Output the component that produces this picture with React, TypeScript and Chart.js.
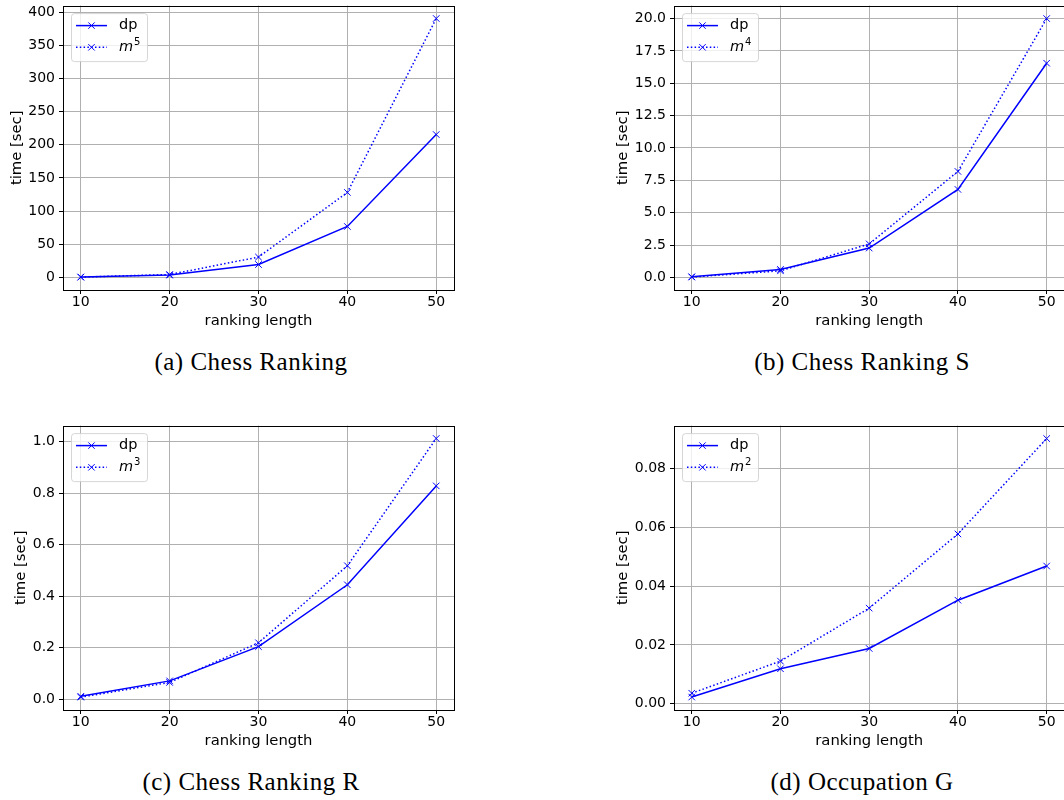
import React, { useEffect, useRef } from "react";
import { Chart, registerables } from "chart.js";

Chart.register(...registerables);
Chart.defaults.font.family = "DejaVu Sans";

// ---------- data ----------
const rankingLengths = [10, 20, 30, 40, 50];
const xTickValues = [10, 20, 30, 40, 50];
const xRange = [8, 52];

const dpChess = [0.1, 3.1, 19.1, 76.6, 215.6];
const m5Chess = [0.13, 4.0, 30.4, 128.1, 391.0];
const yTicksChess = [0, 50, 100, 150, 200, 250, 300, 350, 400];
const yRangeChess = [-19.4, 410.5];

const dpChessS = [0.05, 0.62, 2.27, 6.8, 16.55];
const m4ChessS = [0.03, 0.51, 2.59, 8.19, 20.0];
const yTicksChessS = [0, 2.5, 5, 7.5, 10, 12.5, 15, 17.5, 20];
const yRangeChessS = [-0.97, 21.0];

const dpChessR = [0.011, 0.071, 0.204, 0.444, 0.828];
const m3ChessR = [0.008, 0.065, 0.219, 0.518, 1.012];
const yTicksChessR = [0, 0.2, 0.4, 0.6, 0.8, 1.0];
const yRangeChessR = [-0.042, 1.062];

const dpOccG = [0.0023, 0.0119, 0.0188, 0.0352, 0.0468];
const m2OccG = [0.0036, 0.0145, 0.0325, 0.0577, 0.0901];
const yTicksOccG = [0, 0.02, 0.04, 0.06, 0.08];
const yRangeOccG = [-0.0021, 0.0945];

const seriesNames = ["dp", "m"];
const xTitle = "ranking length";
const yTitle = "time [sec]";

// ---------- layout ----------
const panels = [
  { key: "a", dp: dpChess, ref: m5Chess, exp: "5", yTicks: yTicksChess, yRange: yRangeChess, decimals: 0,
    left: 0, top: 0, width: 460, chartLeft: 63, chartRight: 454, titleX: 17.5,
    caption: "(a) Chess Ranking", captionX: 251 },
  { key: "b", dp: dpChessS, ref: m4ChessS, exp: "4", yTicks: yTicksChessS, yRange: yRangeChessS, decimals: 1,
    left: 600, top: 0, width: 470, chartLeft: 674, chartRight: 1066, titleX: 623,
    caption: "(b) Chess Ranking S", captionX: 862 },
  { key: "c", dp: dpChessR, ref: m3ChessR, exp: "3", yTicks: yTicksChessR, yRange: yRangeChessR, decimals: 1,
    left: 0, top: 420, width: 460, chartLeft: 63, chartRight: 454, titleX: 21,
    caption: "(c) Chess Ranking R", captionX: 251 },
  { key: "d", dp: dpOccG, ref: m2OccG, exp: "2", yTicks: yTicksOccG, yRange: yRangeOccG, decimals: 2,
    left: 600, top: 420, width: 470, chartLeft: 674, chartRight: 1066, titleX: 623,
    caption: "(d) Occupation G", captionX: 862 },
];

const CANVAS_H = 340;
const CHART_TOP = 5;
const CHART_BOTTOM = 290;
const FONT = "DejaVu Sans";
const TICK_SIZE = 14;
const TITLE_SIZE = 14.8;
const TITLE_HALF = (TITLE_SIZE * 1.2) / 2;
const BLUE = "#0000ff";

const framePlugin = {
  id: "mplFrame",
  afterDatasetsDraw(chart: any) {
    const { ctx, chartArea } = chart;
    const l = Math.round(chartArea.left) + 0.5;
    const t = Math.round(chartArea.top) + 0.5;
    const r = Math.round(chartArea.right) + 0.5;
    const b = Math.round(chartArea.bottom) + 0.5;
    ctx.save();
    ctx.strokeStyle = "#000";
    ctx.lineWidth = 1;
    ctx.strokeRect(l, t, r - l, b - t);
    ctx.restore();
  },
};

const legendPlugin = {
  id: "mplLegend",
  afterDraw(chart: any, _args: any, opts: any) {
    const { ctx, chartArea } = chart;
    const left = chartArea.left;
    const top = chartArea.top;
    ctx.save();
    const bx = left + 8, by = top + 7.5, bw = 76, bh = 48;
    ctx.beginPath();
    ctx.roundRect(bx + 0.5, by + 0.5, bw, bh, 3);
    ctx.fillStyle = "rgba(255,255,255,0.8)";
    ctx.fill();
    ctx.strokeStyle = "rgba(204,204,204,0.8)";
    ctx.lineWidth = 1;
    ctx.stroke();
    const rows = [top + 20, top + 41.7];
    rows.forEach((y, i) => {
      ctx.strokeStyle = BLUE;
      ctx.lineWidth = 1.5;
      ctx.setLineDash(i === 0 ? [] : [1.5, 2.3]);
      ctx.beginPath();
      ctx.moveTo(left + 13, y);
      ctx.lineTo(left + 44, y);
      ctx.stroke();
      ctx.setLineDash([]);
      ctx.lineWidth = 1;
      const mx = left + 28.5, d = 3.2;
      ctx.beginPath();
      ctx.moveTo(mx - d, y - d);
      ctx.lineTo(mx + d, y + d);
      ctx.moveTo(mx - d, y + d);
      ctx.lineTo(mx + d, y - d);
      ctx.stroke();
      ctx.fillStyle = "#000";
      ctx.textBaseline = "middle";
      ctx.textAlign = "left";
      const tx = left + 56;
      if (i === 0) {
        ctx.font = `14.5px "${FONT}"`;
        ctx.fillText(seriesNames[0], tx, y);
      } else {
        ctx.font = `oblique 14.5px "${FONT}"`;
        ctx.fillText(seriesNames[1], tx, y);
        const w = ctx.measureText(seriesNames[1]).width;
        ctx.font = `10px "${FONT}"`;
        ctx.fillText(opts.exp, tx + w + 1, y - 5);
      }
    });
    ctx.restore();
  },
};

function Panel({ p }: { p: any }) {
  const ref = useRef<HTMLCanvasElement | null>(null);
  useEffect(() => {
    if (!ref.current) return;
    const yAxisWidth = p.chartLeft - p.left;
    const padRight = p.left + p.width - p.chartRight;
    const chart = new Chart(ref.current, {
      type: "line",
      data: {
        datasets: [
          {
            label: seriesNames[0],
            data: rankingLengths.map((x, i) => ({ x, y: p.dp[i] })),
            borderColor: BLUE,
            backgroundColor: BLUE,
            borderWidth: 1.5,
            pointStyle: "crossRot",
            pointRadius: 4.6,
            pointBorderWidth: 1,
            pointBorderColor: BLUE,
            tension: 0,
            fill: false,
          },
          {
            label: seriesNames[1] + p.exp,
            data: rankingLengths.map((x, i) => ({ x, y: p.ref[i] })),
            borderColor: BLUE,
            backgroundColor: BLUE,
            borderWidth: 1.5,
            borderDash: [1.5, 2.3],
            pointStyle: "crossRot",
            pointRadius: 4.6,
            pointBorderWidth: 1,
            pointBorderColor: BLUE,
            tension: 0,
            fill: false,
          },
        ],
      },
      options: {
        animation: false,
        responsive: false,
        maintainAspectRatio: false,
        events: [],
        layout: { padding: { top: CHART_TOP, right: padRight, bottom: 0, left: 0 } },
        plugins: {
          legend: { display: false },
          tooltip: { enabled: false },
          mplLegend: { exp: p.exp },
        } as any,
        scales: {
          x: {
            type: "linear",
            min: xRange[0],
            max: xRange[1],
            afterBuildTicks: (s: any) => {
              s.ticks = xTickValues.map((v) => ({ value: v }));
            },
            afterFit: (s: any) => {
              s.height = CANVAS_H - CHART_BOTTOM;
              s.paddingLeft = 0;
              s.paddingRight = 0;
              s.paddingTop = 0;
              s.paddingBottom = 0;
            },
            grid: { color: "#b0b0b0", lineWidth: 1, tickColor: "#000", tickLength: 4, tickWidth: 1, drawTicks: true },
            border: { display: false },
            ticks: {
              color: "#000",
              font: { family: FONT, size: TICK_SIZE },
              padding: 0,
              maxRotation: 0,
              autoSkip: false,
              callback: (v: any) => String(v),
            },
            title: {
              display: true,
              text: xTitle,
              color: "#000",
              font: { family: FONT, size: TITLE_SIZE },
              padding: { top: 0, bottom: CANVAS_H - TITLE_HALF - 321 },
            },
          },
          y: {
            type: "linear",
            min: p.yRange[0],
            max: p.yRange[1],
            afterBuildTicks: (s: any) => {
              s.ticks = p.yTicks.map((v: number) => ({ value: v }));
            },
            afterFit: (s: any) => {
              s.width = yAxisWidth;
              s.paddingLeft = 0;
              s.paddingRight = 0;
              s.paddingTop = 0;
              s.paddingBottom = 0;
            },
            grid: { color: "#b0b0b0", lineWidth: 1, tickColor: "#000", tickLength: 4, tickWidth: 1, drawTicks: true },
            border: { display: false },
            ticks: {
              color: "#000",
              font: { family: FONT, size: TICK_SIZE },
              padding: 4,
              autoSkip: false,
              callback: (v: any) => Number(v).toFixed(p.decimals),
            },
            title: {
              display: true,
              text: yTitle,
              color: "#000",
              font: { family: FONT, size: TITLE_SIZE },
              padding: { top: p.titleX - p.left - TITLE_HALF, bottom: 0 },
            },
          },
        },
      },
      plugins: [framePlugin, legendPlugin],
    } as any);
    return () => chart.destroy();
  }, [p]);
  return (
    <canvas
      ref={ref}
      width={p.width}
      height={CANVAS_H}
      style={{ position: "absolute", left: p.left, top: p.top, width: p.width, height: CANVAS_H }}
    />
  );
}

export default function App() {
  return (
    <div
      style={{
        position: "absolute",
        left: 0,
        top: 0,
        width: 1064,
        height: 800,
        overflow: "hidden",
        background: "#fff",
      }}
    >
      {panels.map((p) => (
        <React.Fragment key={p.key}>
          <Panel p={p} />
          <div
            style={{
              position: "absolute",
              left: p.captionX - 230,
              top: p.top + 349,
              width: 460,
              textAlign: "center",
              fontFamily: '"Liberation Serif", serif',
              fontSize: 25,
              lineHeight: "25px",
              letterSpacing: 0.5,
              color: "#000",
              whiteSpace: "nowrap",
            }}
          >
            {p.caption}
          </div>
        </React.Fragment>
      ))}
    </div>
  );
}
